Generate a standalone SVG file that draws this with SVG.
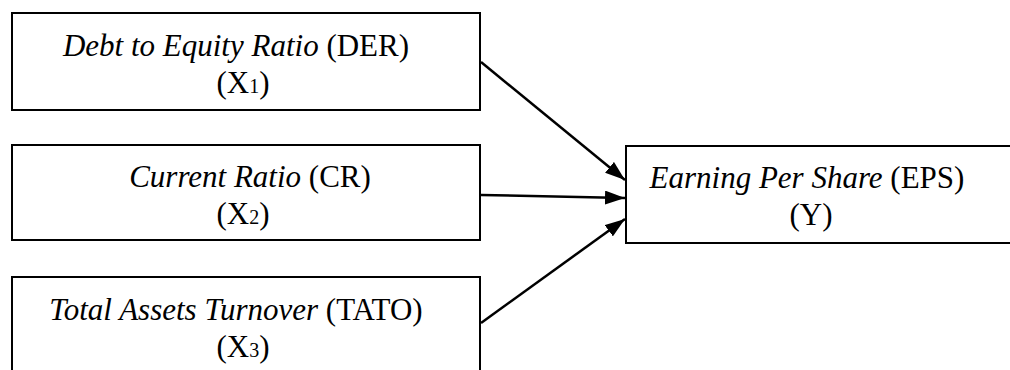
<svg xmlns="http://www.w3.org/2000/svg" width="1010" height="370" viewBox="0 0 1010 370">
<style>
.box{fill:#fff;stroke:#000;stroke-width:2}
.t{font-family:"Liberation Serif","Times New Roman",serif;font-size:31px;fill:#000;text-anchor:middle}
.i{font-style:italic}
.s{font-size:20px}
.c{stroke:#000;stroke-width:2.5;fill:none;marker-end:url(#ah)}
</style>
<defs>
<marker id="ah" markerUnits="userSpaceOnUse" markerWidth="20" markerHeight="14" refX="20" refY="7" orient="auto">
<path d="M0,0 L20,7 L0,14 z" fill="#000"/>
</marker>
</defs>
<rect width="1010" height="370" fill="#fff"/>
<g id="der">
<rect class="box" x="12" y="13" width="468" height="97"/>
<text class="t" x="236" y="56"><tspan class="i">Debt to Equity Ratio</tspan> (DER)</text>
<text class="t" x="243" y="93">(X<tspan class="s">1</tspan>)</text>
</g>
<g id="cr">
<rect class="box" x="12" y="145" width="468" height="95"/>
<text class="t" x="250" y="187"><tspan class="i">Current Ratio</tspan> (CR)</text>
<text class="t" x="243" y="224">(X<tspan class="s">2</tspan>)</text>
</g>
<g id="tato">
<rect class="box" x="12" y="277" width="468" height="110"/>
<text class="t" x="236" y="320"><tspan class="i">Total Assets Turnover</tspan> (TATO)</text>
<text class="t" x="243" y="357">(X<tspan class="s">3</tspan>)</text>
</g>
<g id="eps">
<rect class="box" x="626" y="146" width="400" height="97"/>
<text class="t" x="807" y="188"><tspan class="i">Earning Per Share</tspan> (EPS)</text>
<text class="t" x="811" y="225">(Y)</text>
</g>
<g id="connectors">
<line class="c" x1="481" y1="62" x2="625" y2="180"/>
<line class="c" x1="481" y1="195" x2="625" y2="198"/>
<line class="c" x1="481" y1="323" x2="625" y2="219"/>
</g>
</svg>
